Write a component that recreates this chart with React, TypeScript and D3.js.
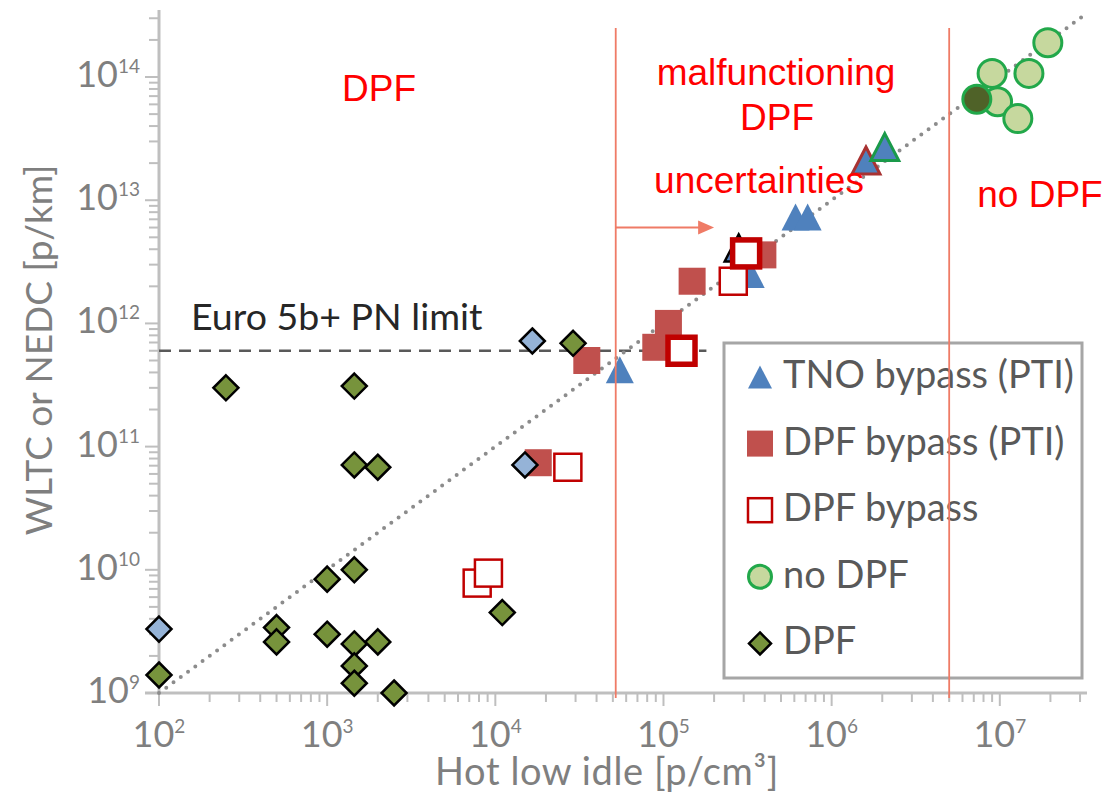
import * as d3 from "d3";

type Pt = [number, number];

// [hot low idle p/cm3, WLTC or NEDC p/km]
const tnoBypass: Pt[] = [
  [5.5e4, 4.2e11],
  [3.3e5, 2.5e12],
  [6.1e5, 7.3e12],
  [7.2e5, 7.3e12],
];
const tnoBypassBlackEdge: Pt[] = [[2.8e5, 4.1e12]];
const tnoBypassRedEdge: Pt[] = [[1.6e6, 2.1e13]];
const tnoBypassGreenEdge: Pt[] = [[2.07e6, 2.7e13]];

const dpfBypassPti: Pt[] = [
  [1.8e4, 7.4e10],
  [3.5e4, 5.0e11],
  [9.0e4, 6.4e11],
  [1.07e5, 1.0e12],
  [1.48e5, 2.2e12],
  [3.9e5, 3.6e12],
];

const dpfBypass: Pt[] = [
  [7.8e3, 7.8e9],
  [9.1e3, 9.4e9],
  [2.7e4, 6.8e10],
  [2.6e5, 2.2e12],
];
const dpfBypassBold: Pt[] = [
  [1.28e5, 6.0e11],
  [3.1e5, 3.7e12],
];

const noDpf: Pt[] = [
  [1.93e7, 1.9e14],
  [9.0e6, 1.07e14],
  [1.49e7, 1.07e14],
  [9.7e6, 6.3e13],
  [1.28e7, 4.6e13],
];
const noDpfDark: Pt[] = [[7.3e6, 6.6e13]];

const dpf: Pt[] = [
  [1e2, 1.4e9],
  [2.5e2, 3.0e11],
  [5e2, 3.4e9],
  [5e2, 2.6e9],
  [1e3, 8.4e9],
  [1e3, 3.0e9],
  [1.45e3, 3.1e11],
  [1.45e3, 7.1e10],
  [2.0e3, 6.8e10],
  [1.45e3, 1.0e10],
  [1.45e3, 2.5e9],
  [2.0e3, 2.6e9],
  [1.45e3, 1.66e9],
  [1.45e3, 1.2e9],
  [2.5e3, 1.0e9],
  [1.1e4, 4.5e9],
  [2.9e4, 6.9e11],
];
const dpfBlue: Pt[] = [
  [1e2, 3.3e9],
  [1.5e4, 7.1e10],
  [1.66e4, 7.2e11],
];

const xDomain: Pt = [1e2, 3.3e7];
const yDomain: Pt = [1e9, 3.5e14];
const euroLimit = 6e11;
const euroLimitEnd = 1.8e5;
const regionBounds = [5.2e4, 5e6];
const regionTop = 2.5e14;
const arrow = { from: 5.2e4, to: 2.0e5, y: 6e12 };
const diagonalFactor = 1e7; // y = 1e7 * x
const legendLabels = ["TNO bypass (PTI)", "DPF bypass (PTI)", "DPF bypass", "no DPF", "DPF"];

const BLUE = "#4f81bd";
const RED_FILL = "#c0504d";
const DARK_RED = "#c00000";
const CIRCLE_STROKE = "#22a84a";
const CIRCLE_FILL = "#c6d89e";
const CIRCLE_DARK = "#4f6228";
const DIAMOND = "#77933c";
const DIAMOND_BLUE = "#95b3d7";
const ANNOT = "#ef7b66";

const xScale = d3.scaleLog().domain(xDomain).range([159, 1087]);
const yScale = d3.scaleLog().domain(yDomain).range([693, 10]);

const tri = (w: number, h: number) => `M0,${-h / 2}L${w / 2},${h / 2}L${-w / 2},${h / 2}Z`;
const dia = (w: number, h: number) => `M0,${-h / 2}L${w / 2},0L0,${h / 2}L${-w / 2},0Z`;

const isMajor = (t: number) => Math.abs(Math.log10(t) - Math.round(Math.log10(t))) < 1e-9;

const Triangles = ({ data, stroke, sw }: { data: Pt[]; stroke?: string; sw?: number }) => (
  <>
    {data.map((d, i) => (
      <path
        key={i}
        transform={`translate(${xScale(d[0])},${yScale(d[1])})`}
        d={tri(28, 27)}
        fill={BLUE}
        stroke={stroke || "none"}
        strokeWidth={sw || 0}
        strokeLinejoin="miter"
      />
    ))}
  </>
);

const Squares = ({ data, fill, stroke, sw }: { data: Pt[]; fill: string; stroke?: string; sw?: number }) => (
  <>
    {data.map((d, i) => (
      <rect
        key={i}
        x={xScale(d[0]) - 13.5}
        y={yScale(d[1]) - 13.5}
        width={27}
        height={27}
        fill={fill}
        stroke={stroke || "none"}
        strokeWidth={sw || 0}
      />
    ))}
  </>
);

const Circles = ({ data, fill }: { data: Pt[]; fill: string }) => (
  <>
    {data.map((d, i) => (
      <circle key={i} cx={xScale(d[0])} cy={yScale(d[1])} r={14} fill={fill} stroke={CIRCLE_STROKE} strokeWidth={3} />
    ))}
  </>
);

const Diamonds = ({ data, fill }: { data: Pt[]; fill: string }) => (
  <>
    {data.map((d, i) => (
      <path
        key={i}
        transform={`translate(${xScale(d[0])},${yScale(d[1])})`}
        d={dia(25, 25)}
        fill={fill}
        stroke="#000"
        strokeWidth={2.5}
        strokeLinejoin="miter"
      />
    ))}
  </>
);

export default function App() {
  const [x0, x1] = xScale.range();
  const [y0, y1] = yScale.range();
  const xTicks = xScale.ticks();
  const yTicks = yScale.ticks();

  const diag = d3.line<number>()
    .x((v) => xScale(v))
    .y((v) => yScale(v * diagonalFactor))([xDomain[0], xDomain[1]]);

  const legendTop = 377;
  const legendStep = 66.6;
  const lx = 760;

  return (
    <svg
      width={1117}
      height={793}
      style={{ position: "absolute", left: 0, top: 0, background: "#fff" }}
      fontFamily="Lato, 'Open Sans', sans-serif"
    >
      {/* axes */}
      <line x1={x0} x2={x0} y1={y1} y2={y0} stroke="#bfbfbf" strokeWidth={3} />
      <line x1={x0 - 14} x2={x1} y1={y0} y2={y0} stroke="#bfbfbf" strokeWidth={3} />
      {yTicks.map((t, i) => (
        <line key={"yt" + i} x1={x0 - (isMajor(t) ? 14 : 10)} x2={x0} y1={yScale(t)} y2={yScale(t)} stroke="#bfbfbf" strokeWidth={2} />
      ))}
      {xTicks.filter((t) => t <= xDomain[1]).map((t, i) => (
        <line key={"xt" + i} x1={xScale(t)} x2={xScale(t)} y1={y0} y2={y0 + (isMajor(t) ? 13 : 9)} stroke="#bfbfbf" strokeWidth={2} />
      ))}
      {yTicks.filter(isMajor).map((t, i) => (
        <text key={"yl" + i} x={140} y={yScale(t) + 10} textAnchor="end" fontSize={36} fill="#7f7f7f">
          10
          <tspan dy={-14} fontSize={19}>{Math.round(Math.log10(t))}</tspan>
        </text>
      ))}
      {xTicks.filter(isMajor).map((t, i) => (
        <text key={"xl" + i} x={xScale(t)} y={747} textAnchor="middle" fontSize={36} fill="#7f7f7f">
          10
          <tspan dy={-14} fontSize={19}>{Math.round(Math.log10(t))}</tspan>
        </text>
      ))}
      <text x={607} y={785} textAnchor="middle" fontSize={38} letterSpacing={0.6} fill="#7f7f7f">
        Hot low idle [p/cm³]
      </text>
      <text transform="translate(52,350) rotate(-90)" textAnchor="middle" fontSize={37} fill="#7f7f7f">
        WLTC or NEDC [p/km]
      </text>

      {/* PN limit */}
      <line
        x1={x0}
        x2={xScale(euroLimitEnd)}
        y1={yScale(euroLimit)}
        y2={yScale(euroLimit)}
        stroke="#595959"
        strokeWidth={2.5}
        strokeDasharray="12 8"
      />
      <text x={191} y={330} fontSize={37.5} fill="#262626">
        Euro 5b+ PN limit
      </text>

      {/* diagonal */}
      <path d={diag || ""} fill="none" stroke="#8c8c8c" strokeWidth={4} strokeLinecap="round" strokeDasharray="0 9" />

      {/* series */}
      <Triangles data={tnoBypass} />
      <Triangles data={tnoBypassBlackEdge} stroke="#000" sw={2.5} />
      <Triangles data={tnoBypassRedEdge} stroke="#a83232" sw={3} />
      <Triangles data={tnoBypassGreenEdge} stroke="#1a9a4a" sw={3} />
      <Squares data={dpfBypassPti} fill={RED_FILL} />
      <Squares data={dpfBypass} fill="#fff" stroke={DARK_RED} sw={2.5} />
      <Squares data={dpfBypassBold} fill="#fff" stroke={DARK_RED} sw={5.5} />
      <Circles data={noDpf} fill={CIRCLE_FILL} />
      <Circles data={noDpfDark} fill={CIRCLE_DARK} />
      <Diamonds data={dpf} fill={DIAMOND} />
      <Diamonds data={dpfBlue} fill={DIAMOND_BLUE} />

      {/* legend */}
      <rect x={724} y={343} width={358} height={335} fill="#fff" stroke="#a6a6a6" strokeWidth={3} />
      {legendLabels.map((lab, i) => {
        const cy = legendTop + i * legendStep;
        let sym;
        if (i === 0) sym = <path transform={`translate(${lx},${cy})`} d={tri(24, 23)} fill={BLUE} />;
        else if (i === 1) sym = <rect x={lx - 13} y={cy - 13} width={26} height={26} fill={RED_FILL} />;
        else if (i === 2) sym = <rect x={lx - 12} y={cy - 12} width={24} height={24} fill="#fff" stroke={DARK_RED} strokeWidth={2.5} />;
        else if (i === 3) sym = <circle cx={lx} cy={cy} r={11.5} fill={CIRCLE_FILL} stroke={CIRCLE_STROKE} strokeWidth={3} />;
        else sym = <path transform={`translate(${lx},${cy})`} d={dia(22, 22)} fill={DIAMOND} stroke="#000" strokeWidth={2.5} />;
        return (
          <g key={lab}>
            {sym}
            <text x={783} y={cy + 11} fontSize={38} fill="#595959">
              {lab}
            </text>
          </g>
        );
      })}

      {/* region boundaries */}
      {regionBounds.map((b, i) => (
        <line key={"rb" + i} x1={xScale(b)} x2={xScale(b)} y1={yScale(regionTop)} y2={y0 + 5} stroke={ANNOT} strokeWidth={1.8} />
      ))}
      <line x1={xScale(arrow.from)} x2={xScale(arrow.to) - 14} y1={yScale(arrow.y)} y2={yScale(arrow.y)} stroke={ANNOT} strokeWidth={2} />
      <path
        transform={`translate(${xScale(arrow.to)},${yScale(arrow.y)})`}
        d="M0,0L-16,-7L-16,7Z"
        fill={ANNOT}
      />

      {/* region labels */}
      <g fontFamily="'Liberation Sans', Arial, sans-serif" fontSize={37} fill="#ff0000" textAnchor="middle">
        <text x={379} y={101}>DPF</text>
        <text x={776} y={85}>malfunctioning</text>
        <text x={777} y={130}>DPF</text>
        <text x={759} y={193}>uncertainties</text>
        <text x={1040} y={207}>no DPF</text>
      </g>
    </svg>
  );
}
